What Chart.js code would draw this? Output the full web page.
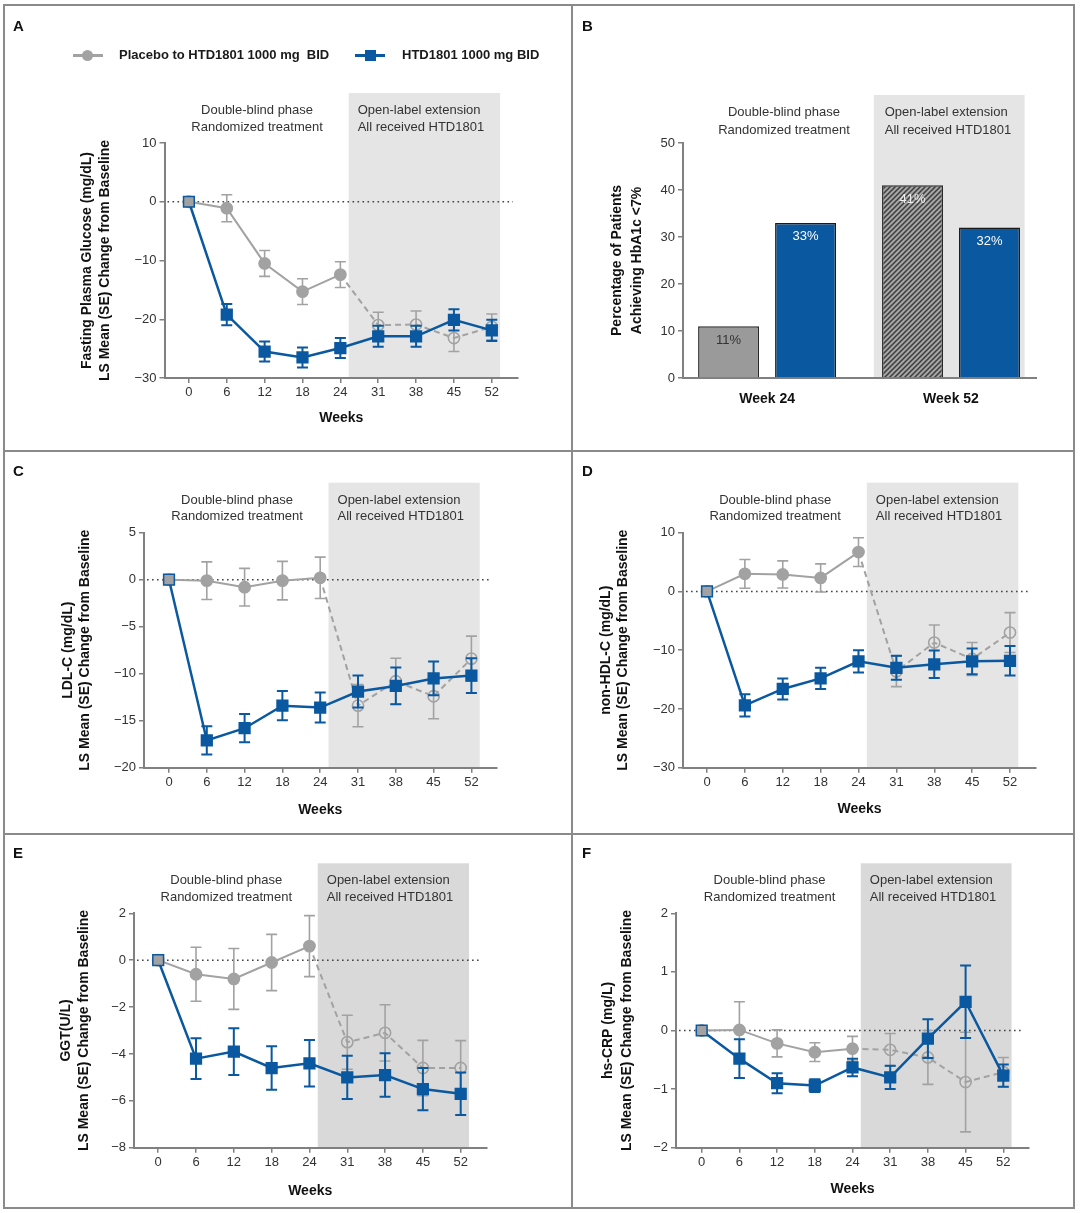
<!DOCTYPE html>
<html><head><meta charset="utf-8">
<script src="https://cdn.jsdelivr.net/npm/chart.js@4.4.1/dist/chart.umd.min.js"></script>
<style>
html,body{margin:0;padding:0;background:#fff;}
body{width:1080px;height:1213px;position:relative;overflow:hidden;font-family:'Liberation Sans',Arial,sans-serif;color:#1a1a1a;}
canvas{position:absolute;}
.rule{position:absolute;background:#8a8a8a;}
.letter{position:absolute;font-weight:bold;font-size:15px;line-height:15px;color:#111;}
.leg{position:absolute;font-weight:bold;font-size:13px;line-height:16px;color:#1a1a1a;white-space:pre;}
.mk{position:absolute;}
</style></head><body>
<canvas id="cA" width="572" height="450" style="left:0;top:0"></canvas>
<canvas id="cB" width="508" height="450" style="left:572px;top:0"></canvas>
<canvas id="cC" width="572" height="383" style="left:0;top:451px"></canvas>
<canvas id="cD" width="508" height="383" style="left:572px;top:451px"></canvas>
<canvas id="cE" width="572" height="379" style="left:0;top:834px"></canvas>
<canvas id="cF" width="508" height="379" style="left:572px;top:834px"></canvas>

<div class="rule" style="left:3px;top:4px;width:1072px;height:2px"></div>
<div class="rule" style="left:3px;top:1207px;width:1072px;height:2px"></div>
<div class="rule" style="left:3px;top:4px;width:2px;height:1205px"></div>
<div class="rule" style="left:1073px;top:4px;width:2px;height:1205px"></div>
<div class="rule" style="left:571px;top:4px;width:2px;height:1205px"></div>
<div class="rule" style="left:3px;top:450px;width:1072px;height:2px"></div>
<div class="rule" style="left:3px;top:833px;width:1072px;height:2px"></div>

<div class="letter" style="left:13px;top:18px">A</div>
<div class="letter" style="left:582px;top:18px">B</div>
<div class="letter" style="left:13px;top:463px">C</div>
<div class="letter" style="left:582px;top:463px">D</div>
<div class="letter" style="left:13px;top:845px">E</div>
<div class="letter" style="left:582px;top:845px">F</div>

<div class="mk" style="left:73px;top:54px;width:30px;height:2.5px;background:#a2a2a2"></div>
<div class="mk" style="left:82px;top:50px;width:11px;height:11px;border-radius:50%;background:#a2a2a2"></div>
<div class="leg" style="left:119px;top:47px">Placebo to HTD1801 1000 mg  BID</div>
<div class="mk" style="left:355px;top:54px;width:30px;height:3px;background:#0a589f"></div>
<div class="mk" style="left:364.5px;top:50px;width:11px;height:11px;background:#0a589f"></div>
<div class="leg" style="left:402px;top:47px">HTD1801 1000 mg BID</div>

<script>
// ---------------- DATA ----------------
const weekLabels = ['0', '6', '12', '18', '24', '31', '38', '45', '52'];

// A: Fasting plasma glucose
const fpgPlacebo   = [0, -1.1, -10.5, -15.3, -12.4, -21.0, -20.9, -23.2, -21.3];
const fpgPlaceboSE = [0, 2.3, 2.2, 2.2, 2.2, 2.2, 2.3, 2.3, 2.2];
const fpgHTD       = [0, -19.2, -25.5, -26.5, -24.9, -22.9, -22.9, -20.1, -21.9];
const fpgHTDSE     = [0, 1.8, 1.7, 1.7, 1.7, 1.8, 1.8, 1.8, 1.8];

// B: HbA1c < 7%
const hba1cGroups  = ['Week 24', 'Week 52'];
const hba1cPlacebo = [11, 41];
const hba1cHTD     = [33, 32];

// C: LDL-C
const ldlPlacebo   = [0, -0.1, -0.8, -0.1, 0.2, -13.4, -10.8, -12.4, -8.4];
const ldlPlaceboSE = [0, 2.0, 2.0, 2.05, 2.2, 2.25, 2.45, 2.4, 2.4];
const ldlHTD       = [0, -17.1, -15.8, -13.4, -13.6, -11.9, -11.3, -10.5, -10.2];
const ldlHTDSE     = [0, 1.5, 1.5, 1.55, 1.6, 1.7, 1.95, 1.8, 1.85];

// D: non-HDL-C
const nhdlPlacebo   = [0, 3.0, 2.9, 2.3, 6.7, -13.6, -8.7, -11.5, -7.0];
const nhdlPlaceboSE = [0, 2.45, 2.3, 2.4, 2.45, 2.6, 3.0, 2.8, 3.4];
const nhdlHTD       = [0, -19.4, -16.6, -14.8, -11.9, -13.0, -12.4, -11.9, -11.8];
const nhdlHTDSE     = [0, 1.9, 1.8, 1.8, 1.9, 2.05, 2.35, 2.2, 2.5];

// E: GGT
const ggtPlacebo   = [0, -0.6, -0.8, -0.1, 0.6, -3.5, -3.1, -4.6, -4.6];
const ggtPlaceboSE = [0, 1.15, 1.3, 1.2, 1.3, 1.15, 1.2, 1.18, 1.17];
const ggtHTD       = [0, -4.2, -3.9, -4.6, -4.4, -5.0, -4.9, -5.5, -5.7];
const ggtHTDSE     = [0, 0.87, 1.0, 0.93, 0.99, 0.92, 0.93, 0.9, 0.91];

// F: hs-CRP
const crpPlacebo   = [0, 0.01, -0.22, -0.37, -0.31, -0.33, -0.46, -0.88, -0.71];
const crpPlaceboSE = [0, 0.48, 0.23, 0.16, 0.21, 0.28, 0.46, 0.85, 0.25];
const crpHTD       = [0, -0.48, -0.9, -0.94, -0.63, -0.8, -0.14, 0.49, -0.77];
const crpHTDSE     = [0, 0.33, 0.17, 0.11, 0.15, 0.2, 0.33, 0.62, 0.19];

const dbText = ['Double-blind phase', 'Randomized treatment'];
const olText = ['Open-label extension', 'All received HTD1801'];

// ---------------- STYLE ----------------
const BLUE = '#0a589f', GRAY = '#a2a2a2', AXIS = '#808080', TXT = '#333333', DARK = '#111111';
const FONT = "'Liberation Sans', Arial, sans-serif";
Chart.defaults.font.family = FONT;
Chart.defaults.color = TXT;
Chart.defaults.animation = false;

const fmt = v => (v < 0 ? '\u2212' + Math.abs(v) : String(v));

// ---------------- PLUGINS ----------------
Chart.register({
  id: 'phase',
  beforeDraw(chart, args, o) {
    if (!o || o.from === undefined) return;
    const ctx = chart.ctx, x = chart.scales.x, a = chart.chartArea;
    const x1 = x.getPixelForValue(o.from), x2 = x.getPixelForValue(o.to);
    ctx.save();
    ctx.fillStyle = o.color;
    ctx.fillRect(x1, a.top - o.up, x2 - x1, a.bottom - (a.top - o.up));
    ctx.fillStyle = TXT;
    ctx.font = '13px ' + FONT;
    ctx.textBaseline = 'middle';
    ctx.textAlign = 'center';
    const cx = x.getPixelForValue(o.dbX);
    ctx.fillText(dbText[0], cx, a.top + o.ty1);
    ctx.fillText(dbText[1], cx, a.top + o.ty2);
    ctx.textAlign = 'left';
    ctx.fillText(olText[0], x1 + o.olDx, a.top + o.ty1);
    ctx.fillText(olText[1], x1 + o.olDx, a.top + o.ty2);
    ctx.restore();
  }
});

Chart.register({
  id: 'zeroLine',
  beforeDatasetsDraw(chart, args, o) {
    if (!o || !o.show) return;
    const ctx = chart.ctx, y = chart.scales.y, a = chart.chartArea;
    const py = y.getPixelForValue(0);
    ctx.save();
    ctx.strokeStyle = '#444';
    ctx.lineWidth = 1.6;
    ctx.setLineDash([1.6, 3.4]);
    ctx.beginPath();
    ctx.moveTo(a.left + 3, py);
    ctx.lineTo(a.right - 5, py);
    ctx.stroke();
    ctx.restore();
  }
});

Chart.register({
  id: 'errorBars',
  beforeDatasetDraw(chart, args) {
    const ds = chart.data.datasets[args.index];
    if (!ds.errors) return;
    const ctx = chart.ctx, x = chart.scales.x, y = chart.scales.y;
    ctx.save();
    ctx.strokeStyle = ds.borderColor;
    ctx.lineWidth = ds.errW;
    ds.data.forEach((pt, i) => {
      const e = ds.errors[i];
      if (!e) return;
      const px = x.getPixelForValue(pt.x);
      const y1 = y.getPixelForValue(pt.y + e), y2 = y.getPixelForValue(pt.y - e);
      ctx.beginPath();
      ctx.moveTo(px, y1); ctx.lineTo(px, y2);
      ctx.moveTo(px - ds.cap, y1); ctx.lineTo(px + ds.cap, y1);
      ctx.moveTo(px - ds.cap, y2); ctx.lineTo(px + ds.cap, y2);
      ctx.stroke();
    });
    ctx.restore();
  }
});

Chart.register({
  id: 'barLabels',
  afterDatasetsDraw(chart, args, o) {
    if (!o || !o.show) return;
    const ctx = chart.ctx;
    ctx.save();
    ctx.font = '13px ' + FONT;
    ctx.textAlign = 'center';
    ctx.textBaseline = 'middle';
    chart.data.datasets.forEach((ds, di) => {
      chart.getDatasetMeta(di).data.forEach((bar, i) => {
        ctx.fillStyle = ds.labelColors[i];
        ctx.fillText(ds.data[i].y + '%', bar.x, bar.y + 14);
      });
    });
    ctx.restore();
  }
});

// ---------------- LAYOUT (global px) ----------------
function layoutFrom(g, axisBottom) {
  const titleLeft = g.yTitleX - g.yTitleLH / 2;
  return {
    padding: { left: titleLeft - g.cv[0], top: g.T - g.cv[1], right: g.cv[0] + g.cv[2] - g.R, bottom: g.cv[1] + g.cv[3] - axisBottom },
    yW: g.L - titleLeft,
    xH: axisBottom - g.B
  };
}

function axisCommon() {
  return {
    grid: { drawOnChartArea: false, drawTicks: true, tickLength: 5, color: AXIS, lineWidth: 1.5 },
    border: { display: true, color: AXIS, width: 2 }
  };
}

function lineChart(id, g, yTitle, yMin, yMax, yStep, pla, plaSE, htd, htdSE, boxColor) {
  const step = (g.X8 - g.X0) / 8;
  const xMin = -(g.X0 - g.L) / step, xMax = 8 + (g.R - g.X8) / step;
  const L = layoutFrom(g, g.weeksY + 8.4);
  const pts = arr => arr.map((v, i) => ({ x: i, y: v }));
  return new Chart(document.getElementById(id), {
    type: 'line',
    data: {
      datasets: [
        {
          label: 'HTD1801 1000 mg BID', data: pts(htd), errors: htdSE, errW: 2, cap: 5.5,
          borderColor: BLUE, backgroundColor: BLUE, borderWidth: 2.5, tension: 0,
          pointStyle: 'rect', pointRadius: 7.6,
          pointBackgroundColor: htd.map((_, i) => (i === 0 ? GRAY : BLUE)),
          pointBorderColor: BLUE, pointBorderWidth: 1.5
        },
        {
          label: 'Placebo to HTD1801 1000 mg BID', data: pts(pla), errors: plaSE, errW: 1.6, cap: 5.5,
          borderColor: GRAY, backgroundColor: GRAY, borderWidth: 2, tension: 0,
          pointStyle: 'circle', pointRadius: 5.6,
          pointBackgroundColor: pla.map((_, i) => (i <= 4 ? GRAY : 'rgba(0,0,0,0)')),
          pointBorderColor: GRAY, pointBorderWidth: 1.6,
          segment: { borderDash: c => (c.p0DataIndex >= 4 ? [6, 4] : undefined) }
        }
      ]
    },
    options: {
      responsive: false, devicePixelRatio: 1, events: [],
      layout: { padding: L.padding },
      plugins: {
        legend: { display: false }, tooltip: { enabled: false },
        phase: { from: 4.22, to: 8.22, up: 50, color: boxColor, dbX: 1.8, olDx: 9, ty1: -32.5, ty2: -16 },
        zeroLine: { show: true }
      },
      scales: {
        x: Object.assign(axisCommon(), {
          type: 'linear', min: xMin, max: xMax,
          afterBuildTicks: s => { s.ticks = weekLabels.map((_, i) => ({ value: i })); },
          ticks: { callback: v => weekLabels[v], font: { size: 13 }, color: TXT, padding: 1.5, maxRotation: 0, autoSkip: false },
          title: { display: true, text: 'Weeks', font: { size: 14, weight: 'bold' }, color: DARK, padding: 0 },
          afterFit: s => { s.height = L.xH; }
        }),
        y: Object.assign(axisCommon(), {
          type: 'linear', min: yMin, max: yMax,
          ticks: { stepSize: yStep, callback: v => fmt(v), font: { size: 13 }, color: TXT, padding: 3 },
          title: { display: true, text: yTitle, font: { size: 14, weight: 'bold', lineHeight: g.yTitleLH / 14 }, color: DARK, padding: 0 },
          afterFit: s => { s.width = L.yW; }
        })
      }
    }
  });
}

// Panel A
lineChart('cA', { cv: [0, 0, 572, 450], L: 164.5, R: 518, T: 143, B: 378, yTitleX: 87.5, yTitleLH: 17.5, weeksY: 418.3, X0: 188.9, X8: 491.8 },
  ['Fasting Plasma Glucose (mg/dL)', 'LS Mean (SE) Change from Baseline'], -30, 10, 10,
  fpgPlacebo, fpgPlaceboSE, fpgHTD, fpgHTDSE, '#e5e5e5');

// Panel C
lineChart('cC', { cv: [0, 451, 572, 383], L: 144, R: 496.4, T: 532.7, B: 767.7, yTitleX: 68, yTitleLH: 16.8, weeksY: 810, X0: 169, X8: 471.4 },
  ['LDL-C (mg/dL)', 'LS Mean (SE) Change from Baseline'], -20, 5, 5,
  ldlPlacebo, ldlPlaceboSE, ldlHTD, ldlHTDSE, '#e5e5e5');

// Panel D
lineChart('cD', { cv: [572, 451, 508, 383], L: 683, R: 1036, T: 532.7, B: 767.7, yTitleX: 606, yTitleLH: 17, weeksY: 809.3, X0: 707, X8: 1010 },
  ['non-HDL-C (mg/dL)', 'LS Mean (SE) Change from Baseline'], -30, 10, 10,
  nhdlPlacebo, nhdlPlaceboSE, nhdlHTD, nhdlHTDSE, '#e5e5e5');

// Panel E
lineChart('cE', { cv: [0, 834, 572, 379], L: 134, R: 486.4, T: 913.3, B: 1147.7, yTitleX: 66, yTitleLH: 18.6, weeksY: 1191, X0: 158.2, X8: 460.7 },
  ['GGT(U/L)', 'LS Mean (SE) Change from Baseline'], -8, 2, 2,
  ggtPlacebo, ggtPlaceboSE, ggtHTD, ggtHTDSE, '#d9d9d9');

// Panel F
lineChart('cF', { cv: [572, 834, 508, 379], L: 676, R: 1029, T: 913.3, B: 1147.7, yTitleX: 608, yTitleLH: 19, weeksY: 1189, X0: 701.7, X8: 1003.3 },
  ['hs-CRP (mg/L)', 'LS Mean (SE) Change from Baseline'], -2, 2, 1,
  crpPlacebo, crpPlaceboSE, crpHTD, crpHTDSE, '#d9d9d9');

// Panel B (bars)
(function () {
  const g = { cv: [572, 0, 508, 450], L: 683, R: 1036, T: 143, B: 378, yTitleX: 617, yTitleLH: 20 };
  const L = layoutFrom(g, g.B + 40);
  const cvs = document.getElementById('cB');
  const pc = document.createElement('canvas');
  pc.width = 5; pc.height = 5;
  const pg = pc.getContext('2d');
  pg.fillStyle = '#a6a6a6'; pg.fillRect(0, 0, 5, 5);
  pg.strokeStyle = '#3c3c3c'; pg.lineWidth = 1.5;
  pg.beginPath();
  pg.moveTo(-1, 6); pg.lineTo(6, -1);
  pg.moveTo(-1, 1); pg.lineTo(1, -1);
  pg.moveTo(4, 6); pg.lineTo(6, 4);
  pg.stroke();
  const hatch = cvs.getContext('2d').createPattern(pc, 'repeat');
  const pts = arr => arr.map((v, i) => ({ x: i, y: v }));
  new Chart(cvs, {
    type: 'bar',
    data: {
      datasets: [
        { label: 'Placebo to HTD1801 1000 mg BID', data: pts(hba1cPlacebo), backgroundColor: ['#9a9a9a', hatch],
          borderColor: '#2a2a2a', borderWidth: 1.5, labelColors: ['#333333', '#eeeeee'] },
        { label: 'HTD1801 1000 mg BID', data: pts(hba1cHTD), backgroundColor: BLUE,
          borderColor: '#1a1a1a', borderWidth: 1.5, labelColors: ['#ffffff', '#ffffff'] }
      ]
    },
    options: {
      responsive: false, devicePixelRatio: 1, events: [],
      layout: { padding: L.padding },
      datasets: { bar: { categoryPercentage: 0.837, barPercentage: 0.792 } },
      plugins: {
        legend: { display: false }, tooltip: { enabled: false },
        phase: { from: 0.58, to: 1.40, up: 48, color: '#e5e5e5', dbX: 0.092, olDx: 11, ty1: -30.5, ty2: -13 },
        barLabels: { show: true }
      },
      scales: {
        x: {
          type: 'linear', min: -0.457, max: 1.462, offset: false,
          afterBuildTicks: s => { s.ticks = hba1cGroups.map((_, i) => ({ value: i })); },
          ticks: { callback: v => hba1cGroups[v], font: { size: 14, weight: 'bold' }, color: DARK, padding: 12.6, maxRotation: 0, autoSkip: false },
          grid: { display: false, drawTicks: false },
          border: { display: true, color: AXIS, width: 2 },
          afterFit: s => { s.height = L.xH; }
        },
        y: Object.assign(axisCommon(), {
          type: 'linear', min: 0, max: 50,
          ticks: { stepSize: 10, callback: v => fmt(v), font: { size: 13 }, color: TXT, padding: 3 },
          title: { display: true, text: ['Percentage of Patients', 'Achieving HbA1c <7%'], font: { size: 14, weight: 'bold', lineHeight: g.yTitleLH / 14 }, color: DARK, padding: 0 },
          afterFit: s => { s.width = L.yW; }
        })
      }
    }
  });
})();
</script>
</body></html>
